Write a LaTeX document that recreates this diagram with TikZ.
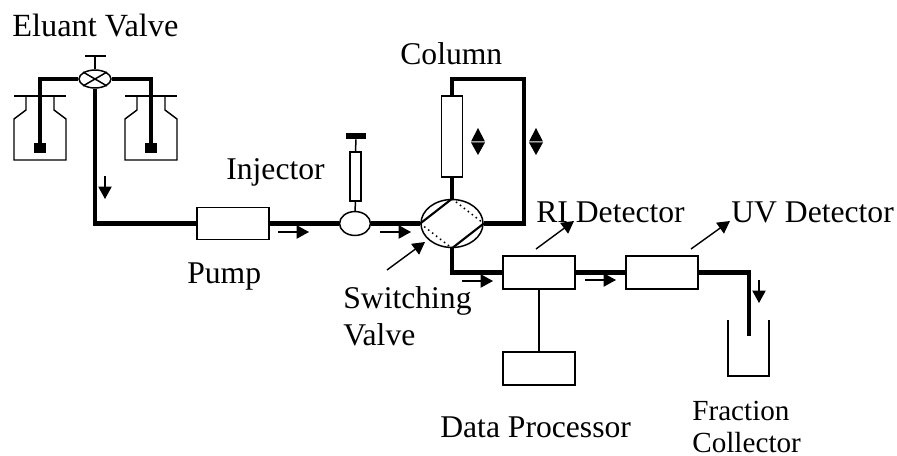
\documentclass[tikz,border=0pt]{standalone}
\usepackage{fontspec}
\setmainfont{Liberation Serif}
\usetikzlibrary{arrows.meta,shapes.geometric}
\tikzset{
  pipe/.style={line width=2.3pt},
  thinline/.style={line width=0.85pt},
  boxnode/.style={draw, thinline, fill=white, rectangle, inner sep=0pt},
  roundnode/.style={draw, thinline, fill=white, ellipse, inner sep=0pt},
  blocknode/.style={fill=black, rectangle, inner sep=0pt, minimum width=6.5pt, minimum height=5.4pt},
  flowarrow/.style={-{Triangle[length=7pt,width=7.5pt]}, line width=0.8pt},
  labeltext/.style={anchor=base west, inner sep=0pt, font=\fontsize{18}{18}\selectfont, align=left},
}
\begin{document}
\begin{tikzpicture}[x=0.02cm,y=-0.02cm]
\useasboundingbox (0,0) rectangle (897,456);
% bottles
\foreach \xx in {14,125} {
  \begin{scope}[shift={(\xx,0)}]
  \draw[thinline] (0,96) -- (52,96);
  \draw[thinline] (12,96) -- (12,110) -- (0,119) -- (0,160) -- (52,160) -- (52,119) -- (40,110) -- (40,96);
  \end{scope}
}
% eluant valve
\node[roundnode, minimum width=18.2pt, minimum height=10.2pt] (eluant) at (95,79) {};
\draw[thinline] (eluant.north east) -- (eluant.south west);
\draw[thinline] (eluant.north west) -- (eluant.south east);
\coordinate (handle) at (95,56);
\draw[thinline] (eluant.north) -- (handle);
\draw[thinline] (85,56) -- (106,56);
\node[blocknode] (blockL) at (40,148) {};
\node[blocknode] (blockR) at (151,148) {};
\draw[pipe] (eluant.west) -| (blockL.north);
\draw[pipe] (eluant.east) -| (blockR.north);
% main line
\node[boxnode, minimum width=41pt, minimum height=18.2pt] (pump) at (233,223.5) {};
\node[roundnode, minimum width=17.6pt, minimum height=13.6pt] (injector) at (355,223.5) {};
\node[roundnode, minimum width=35.3pt, minimum height=27.3pt] (switch) at (452,223.5) {};
\node[boxnode, minimum width=12pt, minimum height=46pt] (column) at (452,136.5) {};
\node[boxnode, minimum width=41pt, minimum height=18.8pt] (ridet) at (539,272.5) {};
\node[boxnode, minimum width=41pt, minimum height=18.8pt] (uvdet) at (662,272.5) {};
\node[boxnode, minimum width=41pt, minimum height=18.8pt] (dataproc) at (539,368.5) {};
\coordinate (corner) at (524,79);
\coordinate (outlet) at (749,336);
\draw[pipe] (eluant.south) |- (pump.west);
\draw[pipe] (pump.east) -- (injector.west);
\draw[pipe] (injector.east) -- (switch.west);
\draw[pipe] (switch.north) -- (column.south);
\draw[pipe] (column.north) |- (corner) |- (switch.east);
\draw[pipe] (switch.south) |- (ridet.west);
\draw[pipe] (ridet.east) -- (uvdet.west);
\draw[pipe] (uvdet.east) -| (outlet);
\draw[thinline] (ridet.south) -- (dataproc.north);
% switching valve inside
\draw[line width=1.2pt] (switch.north) -- (switch.west);
\draw[line width=1.2pt] (switch.east) -- (switch.south);
\draw[thinline, dotted] (switch.north) -- (switch.east);
\draw[thinline, dotted] (switch.west) -- (switch.south);
% syringe
\node[boxnode, minimum width=6.2pt, minimum height=28pt] (syringe) at (355.5,176.5) {};
\node[blocknode, minimum width=11.6pt, minimum height=3.4pt] (plunger) at (356,136) {};
\draw[thinline] (injector.north) -- (syringe.south);
\draw[thinline] (syringe.north) -- (plunger.south);
% beaker
\draw[thinline] (728,320) -- (728,376) -- (769,376) -- (769,320);
% flow arrows
\draw[flowarrow] (105,176) -- (105,199);
\foreach \xx/\yy in {278/232,380/232,462/281,585/280} {
  \draw[flowarrow] (\xx,\yy) -- ++(31,0);
}
\draw[flowarrow] (759,280) -- (759,303);
% double arrows
\foreach \xx in {478,536} {
  \fill (\xx,128) -- (\xx+7,141.5) -- (\xx-7,141.5) -- cycle;
  \fill (\xx,155) -- (\xx+7,142.5) -- (\xx-7,142.5) -- cycle;
}
% labels
\node[labeltext, font=\fontsize{18.4}{18.4}\selectfont] (eluantlabel) at (12,37) {Eluant Valve};
\node[labeltext] (injectorlabel) at (226,180) {Injector};
\node[labeltext] (columnlabel) at (400,65) {Column};
\node[labeltext] (pumplabel) at (187,283) {Pump};
\node[labeltext] (switchlabel) at (343,345) {Switching\\[3pt]Valve};
\node[labeltext] (rilabel) at (536,223) {RI Detector};
\node[labeltext] (uvlabel) at (731,223) {UV Detector};
\node[labeltext] (datalabel) at (440,437) {Data Processor};
\node[labeltext, font=\fontsize{16.6}{18.1}\selectfont] (fractionlabel) at (692,452) {Fraction\\Collector};
% pointer arrows
\coordinate (swtail) at (387,270);
\coordinate (ritail) at (536,249);
\coordinate (uvtail) at (691,249);
\draw[flowarrow] (swtail) -- (425,242);
\draw[flowarrow] (ritail) -- (574,221);
\draw[flowarrow] (uvtail) -- (730,221);
\end{tikzpicture}
\end{document}
